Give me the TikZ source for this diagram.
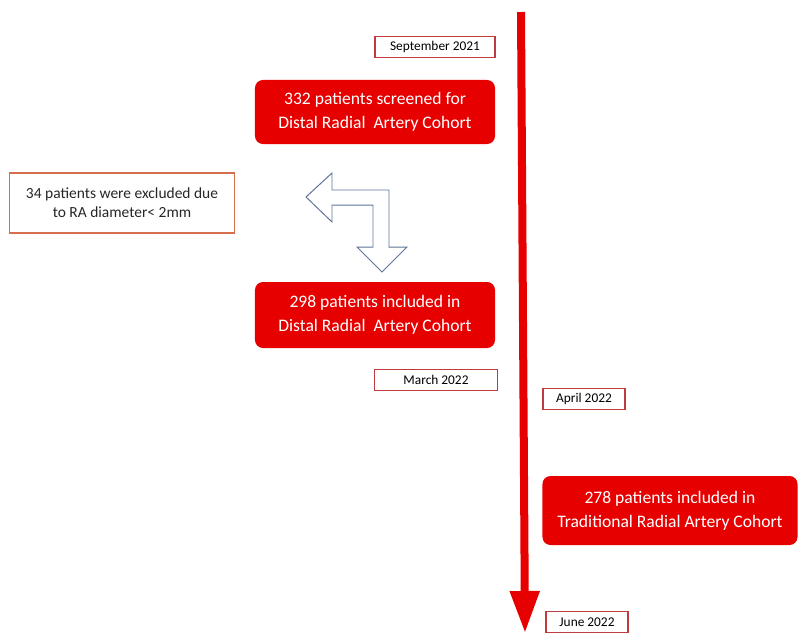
\documentclass[tikz,border=0pt]{standalone}
\usepackage{fontspec}
\setmainfont{Carlito}
\usetikzlibrary{arrows.meta}

\definecolor{cohortred}{RGB}{230,0,0}
\definecolor{dateline}{RGB}{192,60,60}
\definecolor{exclline}{RGB}{215,110,75}
\definecolor{bentline}{RGB}{95,115,155}

\begin{document}
\begin{tikzpicture}[x=0.025cm, y=-0.025cm,
    cohort/.style={rectangle, rounded corners=0.2cm, fill=cohortred, text=white,
      align=center, font=\fontsize{12.5}{17}\selectfont},
    datebox/.style={rectangle, draw=dateline, line width=0.8pt, fill=white,
      minimum height=0.51cm, inner sep=0pt, font=\fontsize{9.5}{11}\selectfont},
  ]
    \useasboundingbox (0,0) rectangle (800,633);

    % time line
    \coordinate (top) at (521,12);
    \coordinate (bottom) at (525,633);
    \draw[cohortred, line width=0.2cm, -{Triangle[width=0.7cm, length=1.05cm]}] (top) -- (bottom);

    \node[datebox, minimum width=3cm] at (435,47) (sep) {September 2021};
    \node[datebox, minimum width=3.07cm] at (436,380) (mar) {March 2022};
    \node[datebox, minimum width=2.05cm] at (584,399) (apr) {April 2022};
    \node[datebox, minimum width=2.05cm] at (587,622) (jun) {June 2022};

    \node[cohort, minimum width=6cm, minimum height=1.6cm] at (375,112) (screened)
      {332 patients screened for\\Distal Radial\ \ Artery Cohort};
    \node[cohort, minimum width=6cm, minimum height=1.65cm] at (375,315) (distal)
      {298 patients included in\\Distal Radial\ \ Artery Cohort};
    \node[cohort, minimum width=6.375cm, minimum height=1.725cm] at (670,510.5) (traditional)
      {278 patients included in\\Traditional Radial Artery Cohort};

    \node[rectangle, draw=exclline, line width=0.8pt, minimum width=5.625cm, minimum height=1.5cm,
      align=center, text=black!85, font=\fontsize{11}{13.7}\selectfont] at (122,203) (excluded)
      {34 patients were excluded due\\to RA diameter< 2mm};

    % bent arrow
    \draw[bentline, line width=0.7pt, fill=white, line join=miter]
      (306,197) -- (332,173) -- (332,190) -- (389,190) -- (389,247) -- (407,247)
      -- (382,272) -- (357,247) -- (373,247) -- (373,205) -- (332,205) -- (332,222) -- cycle;
  \end{tikzpicture}
\end{document}
